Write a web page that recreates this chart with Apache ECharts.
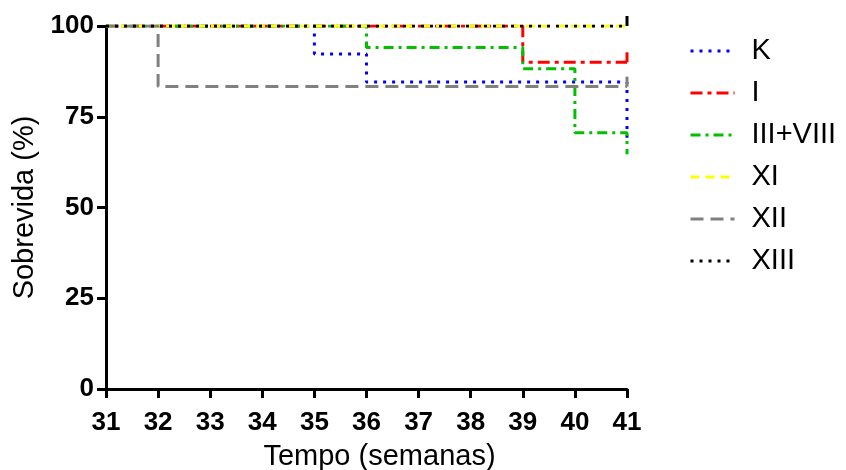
<!DOCTYPE html>
<html><head><meta charset="utf-8">
<script src="https://cdn.jsdelivr.net/npm/echarts@6/dist/echarts.min.js"></script>
<style>html,body{margin:0;padding:0;background:#fff}#c{width:846px;height:470px}</style>
</head><body><div id="c"></div>
<script>
const seriesNames = ['K', 'I', 'III+VIII', 'XI', 'XII', 'XIII'];
const kTimes = [31, 35, 36, 41];
const kValues = [100, 92.3, 84.6, 69.2];
const iTimes = [31, 39, 41];
const iValues = [100, 90, 90];
const iiiTimes = [31, 36, 39, 40, 41];
const iiiValues = [100, 94.1, 88.2, 70.6, 64.7];
const xiTimes = [31, 41];
const xiValues = [100, 100];
const xiiTimes = [31, 32, 41];
const xiiValues = [100, 83.3, 83.3];
const xiiiTimes = [31, 41];
const xiiiValues = [100, 100];
const censoredLast = [false, true, false, false, true, true];
const xTicks = [31, 32, 33, 34, 35, 36, 37, 38, 39, 40, 41];
const yTicks = [0, 25, 50, 75, 100];

const colors = ['#0000ff', '#ff0000', '#00c000', '#ffff00', '#808080', '#000000'];
const dashes = [[3, 6], [12, 5, 4, 5], [10, 5, 3, 5], [9, 6], [13, 7], [3, 6]];
const times = [kTimes, iTimes, iiiTimes, xiTimes, xiiTimes, xiiiTimes];
const values = [kValues, iValues, iiiValues, xiValues, xiiValues, xiiiValues];
const font = 'Liberation Sans, Arial, sans-serif';

const series = seriesNames.map((name, s) => ({
  name, type: 'line', step: 'end', showSymbol: true, symbol: 'none',
  lineStyle: { color: colors[s], width: 3, type: dashes[s], cap: 'butt' },
  itemStyle: { color: colors[s] },
  data: times[s].map((t, i) => {
    const item = { value: [t, values[s][i]] };
    if (censoredLast[s] && i === times[s].length - 1) {
      item.symbol = 'rect'; item.symbolSize = [3, 10]; item.symbolOffset = [0, -5];
    }
    return item;
  })
}));

const chart = echarts.init(document.getElementById('c'));
chart.setOption({
  animation: false,
  grid: { left: 106, right: 219, top: 26, bottom: 81, containLabel: false, outerBoundsMode: 'none' },
  legend: {
    orient: 'vertical', left: 684, top: 31, itemGap: 12, itemWidth: 44, itemHeight: 14,
    itemStyle: { opacity: 0 },
    lineStyle: { width: 3 },
    textStyle: { fontFamily: font, fontSize: 29, lineHeight: 30, color: '#000', padding: [0, 0, 0, 12] },
    data: seriesNames
  },
  xAxis: {
    type: 'value', min: 31, max: 41, interval: 1,
    name: 'Tempo (semanas)', nameLocation: 'middle', nameGap: 53,
    nameTextStyle: { fontFamily: font, fontSize: 29, color: '#000', padding: [0, 0, 0, 26] },
    axisLine: { lineStyle: { color: '#000', width: 3 } },
    axisTick: { show: true, length: 9, lineStyle: { color: '#000', width: 3 } },
    axisLabel: { fontFamily: font, fontSize: 26, fontWeight: 'bold', color: '#000', margin: 21 },
    splitLine: { show: false }
  },
  yAxis: {
    type: 'value', min: 0, max: 100, interval: 25,
    name: 'Sobrevida (%)', nameLocation: 'middle', nameGap: 64,
    nameTextStyle: { fontFamily: font, fontSize: 29, color: '#000' },
    axisLine: { show: true, lineStyle: { color: '#000', width: 3 } },
    axisTick: { show: true, length: 9, lineStyle: { color: '#000', width: 3 } },
    axisLabel: { fontFamily: font, fontSize: 26, fontWeight: 'bold', color: '#000', margin: 12 },
    splitLine: { show: false }
  },
  series
});
</script></body></html>
